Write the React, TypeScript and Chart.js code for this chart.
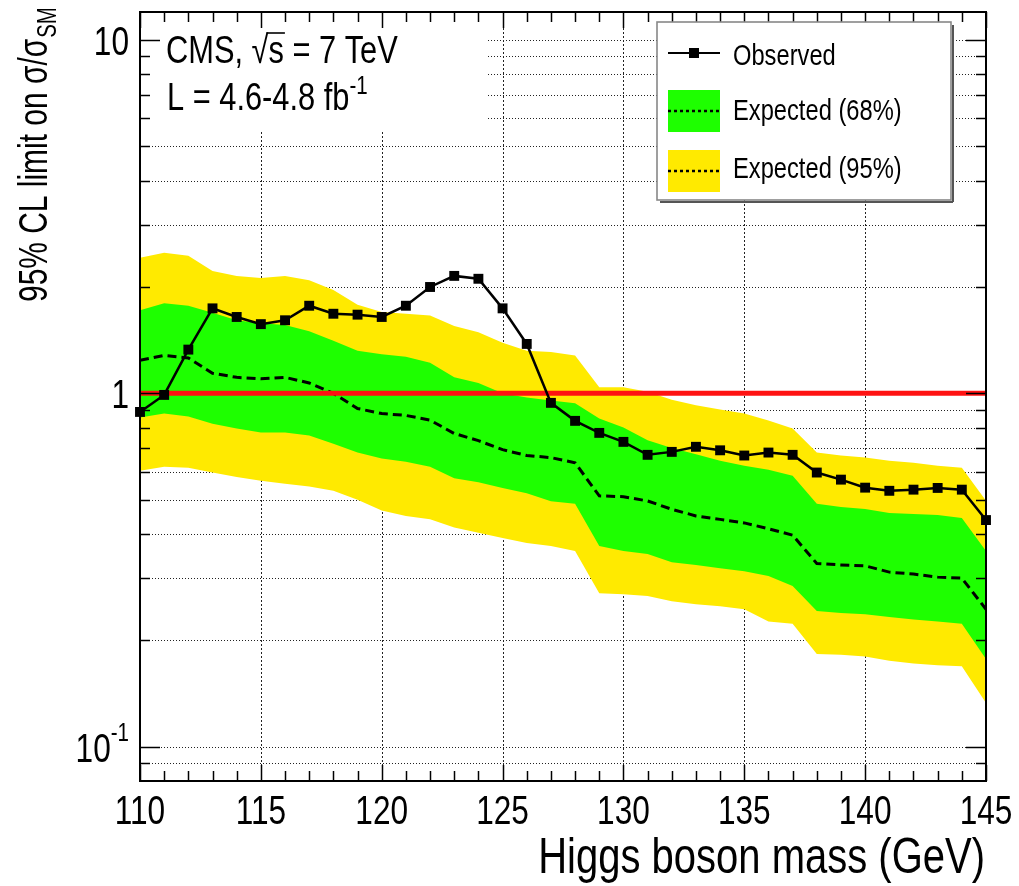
import React, { useEffect, useRef } from 'react';
import { Chart, registerables } from 'chart.js';

Chart.register(...registerables);

// Higgs boson mass hypotheses (GeV)
const masses = [
  110, 111, 112, 113, 114, 115, 116, 117, 118, 119, 120, 121,
  122, 123, 124, 125, 126, 127, 128, 129, 130, 131, 132, 133,
  134, 135, 136, 137, 138, 139, 140, 141, 142, 143, 144, 145,
];

// Observed 95% CL upper limit on sigma/sigma_SM
const observed = [
  0.886, 0.99, 1.33, 1.74, 1.645, 1.57, 1.61, 1.77, 1.68, 1.67, 1.645, 1.77,
  2.0, 2.15, 2.11, 1.74, 1.38, 0.94, 0.836, 0.773, 0.729, 0.67, 0.683, 0.706,
  0.69, 0.667, 0.68, 0.67, 0.597, 0.57, 0.541, 0.53, 0.534, 0.54, 0.534, 0.438,
];

// Median expected limit
const expected = [
  1.24, 1.28, 1.26, 1.14, 1.11, 1.1, 1.11, 1.07, 1.0, 0.906, 0.877, 0.866,
  0.84, 0.77, 0.735, 0.693, 0.667, 0.658, 0.636, 0.513, 0.51, 0.496, 0.47, 0.45,
  0.44, 0.43, 0.414, 0.397, 0.33, 0.327, 0.325, 0.312, 0.308, 0.302, 0.3, 0.245,
];

// 68% expected band
const expected68Low = [
  0.855, 0.877, 0.86, 0.82, 0.795, 0.775, 0.775, 0.76, 0.72, 0.68, 0.654, 0.64,
  0.62, 0.575, 0.56, 0.54, 0.522, 0.495, 0.487, 0.37, 0.358, 0.351, 0.333, 0.327,
  0.32, 0.314, 0.304, 0.285, 0.242, 0.239, 0.237, 0.233, 0.229, 0.226, 0.223, 0.177,
];
const expected68High = [
  1.72, 1.8, 1.77, 1.69, 1.61, 1.58, 1.56, 1.5, 1.41, 1.32, 1.29, 1.27,
  1.22, 1.11, 1.07, 1.0, 0.974, 0.955, 0.937, 0.849, 0.8, 0.737, 0.7, 0.673,
  0.645, 0.624, 0.608, 0.585, 0.487, 0.477, 0.471, 0.459, 0.456, 0.453, 0.444, 0.358,
];

// 95% expected band
const expected95Low = [
  0.604, 0.62, 0.616, 0.597, 0.58, 0.566, 0.555, 0.545, 0.53, 0.5, 0.466, 0.45,
  0.44, 0.417, 0.403, 0.39, 0.377, 0.37, 0.358, 0.272, 0.27, 0.267, 0.258, 0.253,
  0.25, 0.245, 0.226, 0.223, 0.183, 0.182, 0.18, 0.175, 0.172, 0.17, 0.169, 0.133,
];
const expected95High = [
  2.42, 2.5, 2.45, 2.22, 2.15, 2.12, 2.15, 2.09, 1.96, 1.78, 1.7, 1.68,
  1.66, 1.55, 1.49, 1.39, 1.32, 1.31, 1.28, 1.04, 1.04, 1.01, 0.96, 0.925,
  0.9, 0.877, 0.838, 0.795, 0.68, 0.667, 0.658, 0.645, 0.636, 0.624, 0.616, 0.497,
];

// Axis ranges and ticks
const xMin = 110;
const xMax = 145;
const yMin = 0.08;
const yMax = 12;
const xLabelValues = [110, 115, 120, 125, 130, 135, 140, 145];
const xGridValues = [115, 120, 125, 130, 135, 140];
const yGridValues = [0.09, 0.1, 0.2, 0.3, 0.4, 0.5, 0.6, 0.7, 0.8, 0.9, 1, 2, 3, 4, 5, 6, 7, 8, 9, 10];
const yLabelValues = [0.1, 1, 10];
const yLabelBases = ['10', '1', '10'];
const yLabelExponents = ['-1', '', ''];

const YELLOW = '#ffea00';
const GREEN = '#1eff00';
const FONT = '"Liberation Sans", Arial, Helvetica, sans-serif';
const SQUEEZE = 0.79;

type Ctx = CanvasRenderingContext2D;

function setFont(ctx: Ctx, size: number) {
  ctx.font = `${size}px ${FONT}`;
}

function textWidth(ctx: Ctx, s: string, size: number, sq = SQUEEZE) {
  ctx.save();
  setFont(ctx, size);
  const w = ctx.measureText(s).width * sq;
  ctx.restore();
  return w;
}

function drawText(
  ctx: Ctx,
  s: string,
  x: number,
  y: number,
  size: number,
  align: CanvasTextAlign = 'left',
  baseline: CanvasTextBaseline = 'alphabetic',
  rot = 0,
  sq = SQUEEZE,
) {
  ctx.save();
  ctx.translate(x, y);
  if (rot) ctx.rotate(rot);
  ctx.scale(sq, 1);
  setFont(ctx, size);
  ctx.textAlign = align;
  ctx.textBaseline = baseline;
  ctx.fillStyle = '#000';
  ctx.fillText(s, 0, 0);
  ctx.restore();
}

function hLine(ctx: Ctx, x0: number, x1: number, y: number) {
  ctx.beginPath();
  ctx.moveTo(x0, y);
  ctx.lineTo(x1, y);
  ctx.stroke();
}

function vLine(ctx: Ctx, x: number, y0: number, y1: number) {
  ctx.beginPath();
  ctx.moveTo(x, y0);
  ctx.lineTo(x, y1);
  ctx.stroke();
}

// Text panel in the upper left corner of the frame
const infoBox = { x0: 141, y0: 13, x1: 488, y1: 130 };
// Legend panel
const legendBox = { x0: 657, y0: 22, x1: 951, y1: 200 };

const limitPlotPlugin = {
  id: 'limitPlot',
  beforeDraw(chart: any) {
    const ctx: Ctx = chart.ctx;
    ctx.save();
    ctx.fillStyle = '#fff';
    ctx.fillRect(0, 0, chart.width, chart.height);
    ctx.restore();
  },
  beforeDatasetsDraw(chart: any) {
    const ctx: Ctx = chart.ctx;
    const { left, right, top, bottom } = chart.chartArea;
    const xs = chart.scales.x;
    const ys = chart.scales.y;
    ctx.save();
    ctx.strokeStyle = '#222';
    ctx.lineWidth = 1;
    // horizontal dotted grid
    ctx.setLineDash([1, 2]);
    for (const v of yGridValues) {
      const y = Math.round(ys.getPixelForValue(v)) + 0.5;
      hLine(ctx, left, right, y);
    }
    // vertical dotted grid
    ctx.setLineDash([2, 2]);
    for (const v of xGridValues) {
      const x = Math.round(xs.getPixelForValue(v)) + 0.5;
      vLine(ctx, x, top, bottom);
    }
    ctx.setLineDash([]);
    // white panel behind the experiment label
    ctx.fillStyle = '#fff';
    ctx.fillRect(infoBox.x0, infoBox.y0, infoBox.x1 - infoBox.x0, infoBox.y1 - infoBox.y0);
    ctx.restore();
  },
  afterDatasetsDraw(chart: any) {
    const ctx: Ctx = chart.ctx;
    const { left, right, top, bottom } = chart.chartArea;
    const xs = chart.scales.x;
    const ys = chart.scales.y;
    ctx.save();

    // tick marks on all four sides, pointing inwards
    ctx.strokeStyle = '#000';
    ctx.lineWidth = 1.5;
    for (const v of yGridValues) {
      const y = Math.round(ys.getPixelForValue(v)) + 0.5;
      const len = yLabelValues.includes(v) ? 20 : 10;
      hLine(ctx, left, left + len, y);
      hLine(ctx, right - len, right, y);
    }
    for (const m of masses) {
      const x = Math.round(xs.getPixelForValue(m)) + 0.5;
      const len = m % 5 === 0 ? 16 : 10;
      vLine(ctx, x, bottom, bottom - len);
      vLine(ctx, x, top, top + len);
    }

    // frame
    ctx.lineWidth = 2;
    ctx.strokeRect(left, top, right - left, bottom - top);

    // x tick labels
    for (const v of xLabelValues) {
      drawText(ctx, String(v), xs.getPixelForValue(v), 824, 40, 'center');
    }

    // y tick labels (powers of ten)
    yLabelValues.forEach((v, i) => {
      const y = ys.getPixelForValue(v) + 4;
      const base = yLabelBases[i];
      const exp = yLabelExponents[i];
      const rightEdge = 129;
      if (exp) {
        const we = textWidth(ctx, exp, 26);
        drawText(ctx, base, rightEdge - we, y, 40, 'right', 'middle');
        drawText(ctx, exp, rightEdge - we, y - 17, 26, 'left', 'middle');
      } else {
        drawText(ctx, base, rightEdge, y, 40, 'right', 'middle');
      }
    });

    // x axis title
    drawText(ctx, 'Higgs boson mass (GeV)', right - 1, 873, 50, 'right', 'alphabetic', 0, 0.8);

    // y axis title, rotated, with subscript
    const ySq = 0.73;
    const main = '95% CL limit on \u03c3/\u03c3';
    const wMain = textWidth(ctx, main, 41, ySq);
    drawText(ctx, main, 47, 302, 41, 'left', 'alphabetic', -Math.PI / 2, ySq);
    drawText(ctx, 'SM', 56, 302 - wMain - 1, 28, 'left', 'alphabetic', -Math.PI / 2, ySq);

    // experiment label: CMS, sqrt(s) = 7 TeV
    let x = 166;
    const b1 = 63;
    drawText(ctx, 'CMS, ', x, b1, 39);
    x += textWidth(ctx, 'CMS, ', 39);
    drawText(ctx, '\u221a', x, b1, 39);
    const wRad = textWidth(ctx, '\u221a', 39);
    const xS = x + wRad;
    drawText(ctx, 's', xS, b1, 39);
    const wS = textWidth(ctx, 's', 39);
    ctx.lineWidth = 1.6;
    ctx.strokeStyle = '#000';
    hLine(ctx, xS - 2, xS + wS + 1, b1 - 30);
    x = xS + wS;
    drawText(ctx, ' = 7 TeV', x, b1, 39);

    // luminosity label with superscript
    x = 167;
    const b2 = 110;
    drawText(ctx, 'L = 4.6-4.8 fb', x, b2, 39);
    x += textWidth(ctx, 'L = 4.6-4.8 fb', 39);
    drawText(ctx, '-1', x, b2 - 16, 26);

    // legend
    const L = legendBox;
    ctx.fillStyle = '#fff';
    ctx.fillRect(L.x0, L.y0, L.x1 - L.x0, L.y1 - L.y0);
    ctx.strokeStyle = '#555';
    ctx.lineWidth = 2;
    hLine(ctx, L.x0 + 3, L.x1 + 2, L.y1 + 2);
    vLine(ctx, L.x1 + 2, L.y0 + 3, L.y1 + 2);
    ctx.strokeStyle = '#888';
    ctx.lineWidth = 1.6;
    ctx.strokeRect(L.x0, L.y0, L.x1 - L.x0, L.y1 - L.y0);

    const sx0 = 668;
    const sx1 = 720;
    // observed entry
    ctx.strokeStyle = '#000';
    ctx.lineWidth = 2;
    hLine(ctx, sx0, sx1, 53);
    ctx.fillStyle = '#000';
    ctx.fillRect(689, 48, 10, 10);
    drawText(ctx, 'Observed', 733, 65, 30);
    // 68% entry
    ctx.fillStyle = GREEN;
    ctx.fillRect(sx0, 90, sx1 - sx0, 42);
    ctx.setLineDash([3, 3]);
    ctx.lineWidth = 2.5;
    hLine(ctx, sx0, sx1, 111);
    ctx.setLineDash([]);
    drawText(ctx, 'Expected (68%)', 733, 120, 30);
    // 95% entry
    ctx.fillStyle = YELLOW;
    ctx.fillRect(sx0, 150, sx1 - sx0, 42);
    ctx.setLineDash([3, 3]);
    hLine(ctx, sx0, sx1, 171);
    ctx.setLineDash([]);
    drawText(ctx, 'Expected (95%)', 733, 178, 30);

    ctx.restore();
  },
};

const pts = (ys: number[]) => masses.map((m, i) => ({ x: m, y: ys[i] }));

export default function App() {
  const canvasRef = useRef<HTMLCanvasElement | null>(null);

  useEffect(() => {
    const canvas = canvasRef.current;
    if (!canvas) return;
    const chart = new Chart(canvas, {
      type: 'line',
      data: {
        datasets: [
          {
            label: 'Expected (95%) upper',
            data: pts(expected95High),
            borderWidth: 0,
            pointRadius: 0,
            backgroundColor: YELLOW,
            fill: '+1',
            order: 10,
          },
          {
            label: 'Expected (95%) lower',
            data: pts(expected95Low),
            borderWidth: 0,
            pointRadius: 0,
            fill: false,
            order: 10,
          },
          {
            label: 'Expected (68%) upper',
            data: pts(expected68High),
            borderWidth: 0,
            pointRadius: 0,
            backgroundColor: GREEN,
            fill: '+1',
            order: 9,
          },
          {
            label: 'Expected (68%) lower',
            data: pts(expected68Low),
            borderWidth: 0,
            pointRadius: 0,
            fill: false,
            order: 9,
          },
          {
            label: 'Expected',
            data: pts(expected),
            borderColor: '#000',
            borderWidth: 3,
            borderDash: [9, 5],
            pointRadius: 0,
            fill: false,
            order: 8,
          },
          {
            label: 'SM',
            data: [
              { x: xMin, y: 1 },
              { x: xMax, y: 1 },
            ],
            borderColor: '#ff1212',
            borderWidth: 5,
            pointRadius: 0,
            fill: false,
            order: 7,
          },
          {
            label: 'Observed',
            data: pts(observed),
            borderColor: '#000',
            borderWidth: 2.5,
            pointStyle: 'rect',
            pointRadius: 7,
            pointBackgroundColor: '#000',
            pointBorderColor: '#000',
            pointBorderWidth: 0,
            fill: false,
            clip: false,
            order: 1,
          },
        ],
      },
      options: {
        animation: false,
        responsive: false,
        devicePixelRatio: 1,
        layout: { padding: { left: 140, top: 12, right: 33, bottom: 105 } },
        elements: { line: { tension: 0 } },
        plugins: {
          legend: { display: false },
          tooltip: { enabled: false },
          title: { display: false },
        },
        scales: {
          x: { type: 'linear', min: xMin, max: xMax, display: false },
          y: { type: 'logarithmic', min: yMin, max: yMax, display: false },
        },
      },
      plugins: [limitPlotPlugin],
    } as any);
    return () => chart.destroy();
  }, []);

  return (
    <canvas
      ref={canvasRef}
      width={1019}
      height={886}
      style={{ position: 'fixed', left: 0, top: 0, width: 1019, height: 886, display: 'block' }}
    />
  );
}
